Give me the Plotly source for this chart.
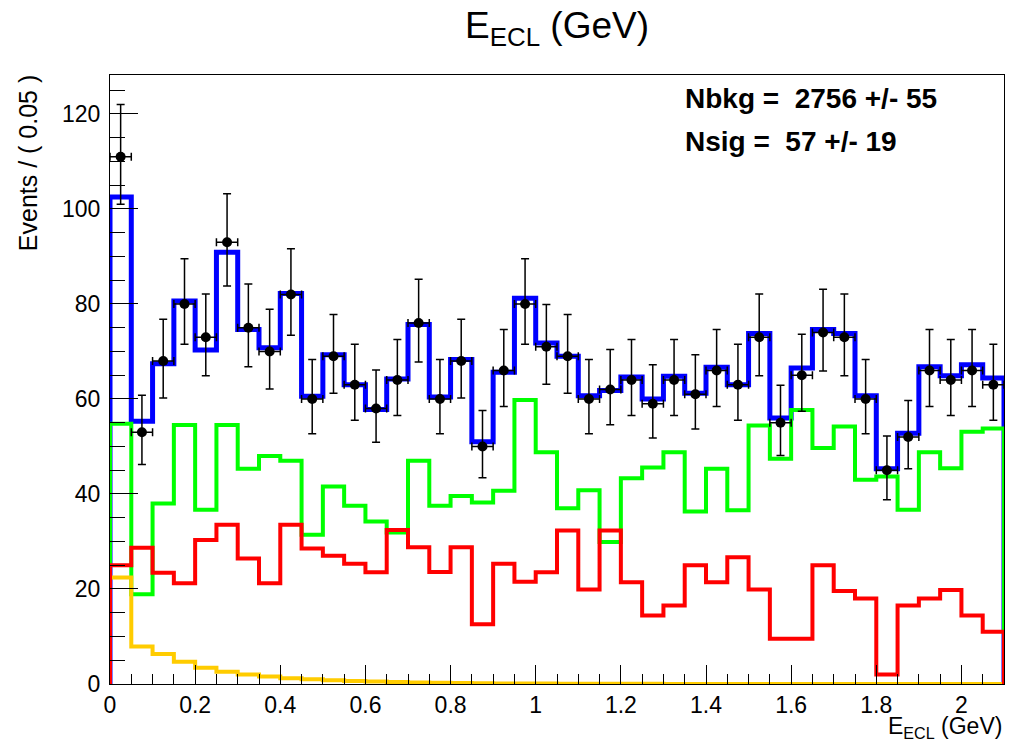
import plotly.graph_objects as go

# ---- data ----
bin_width = 0.05
n_bins = 42

data_counts = [111, 53, 68, 80, 73, 93, 75, 70, 82, 60,
               69, 63, 58, 64, 76, 60, 68, 50, 66, 80,
               71, 69, 60, 62, 64, 59, 64, 61, 66, 63,
               73, 55, 65, 74, 73, 60, 45, 52, 66, 64,
               66, 63]
err_hi = [11.0, 7.8, 8.8, 9.5, 9.1, 10.2, 9.2, 8.9, 9.6, 8.3,
          8.8, 8.5, 8.1, 8.5, 9.2, 8.3, 8.8, 7.6, 8.6, 9.5,
          8.9, 8.8, 8.3, 8.4, 8.5, 8.2, 8.5, 8.3, 8.6, 8.5,
          9.1, 7.9, 8.6, 9.1, 9.1, 8.3, 7.2, 7.7, 8.6, 8.5,
          8.6, 8.5]
err_lo = [10.0, 6.8, 7.8, 8.5, 8.1, 9.2, 8.2, 7.9, 8.6, 7.3,
          7.8, 7.5, 7.1, 7.5, 8.2, 7.3, 7.8, 6.6, 7.6, 8.5,
          7.9, 7.8, 7.3, 7.4, 7.5, 7.2, 7.5, 7.3, 7.6, 7.5,
          8.1, 6.9, 7.6, 8.1, 8.1, 7.3, 6.2, 6.7, 7.6, 7.5,
          7.6, 7.5]

total_fit = [102.5, 55.3, 67.4, 80.6, 70.3, 90.9, 74.6, 70.8, 82.2, 60.6,
             69.3, 63.0, 57.8, 64.2, 75.7, 60.4, 68.3, 51.0, 65.6, 81.2,
             71.8, 69.0, 60.7, 61.8, 64.6, 60.0, 64.8, 61.2, 66.7, 63.0,
             73.8, 56.0, 66.5, 74.6, 73.8, 60.7, 45.3, 52.8, 66.8, 64.9,
             67.2, 64.4]
green_comp = [54.8, 18.9, 38.0, 54.5, 36.7, 54.5, 45.3, 48.0, 47.0, 31.4,
              41.6, 37.5, 34.2, 31.9, 47.0, 37.5, 39.6, 38.2, 40.7, 59.8,
              48.8, 37.0, 40.8, 29.9, 43.3, 45.6, 48.8, 36.3, 45.3, 36.6,
              54.4, 47.4, 57.7, 49.7, 54.2, 43.0, 43.7, 36.7, 48.8, 45.4,
              53.1, 53.8]
red_comp = [25.0, 28.7, 23.4, 21.2, 30.3, 33.5, 26.4, 21.2, 33.5, 28.5,
            27.0, 25.3, 23.5, 32.4, 28.8, 23.6, 28.8, 12.6, 25.3, 21.5,
            23.5, 32.3, 19.9, 32.3, 21.4, 14.4, 16.5, 25.0, 21.4, 26.7,
            19.9, 9.5, 9.5, 25.0, 19.6, 18.0, 2.0, 16.5, 18.0, 19.8,
            14.4, 11.0]
yellow_comp = [22.4, 7.9, 6.3, 4.7, 3.4, 2.6, 2.0, 1.6, 1.2, 1.0,
               0.8, 0.65, 0.5, 0.4, 0.32, 0.26, 0.2, 0.16, 0.13, 0.1,
               0.08, 0.06, 0.05, 0.04, 0.03, 0.03, 0.02, 0.02, 0.01, 0.01,
               0.01, 0.01, 0.0, 0.0, 0.0, 0.0, 0.0, 0.0, 0.0, 0.0,
               0.0, 0.0]

x_tick_vals = [0, 0.2, 0.4, 0.6, 0.8, 1.0, 1.2, 1.4, 1.6, 1.8, 2.0]
x_tick_text = ["0", "0.2", "0.4", "0.6", "0.8", "1", "1.2", "1.4", "1.6", "1.8", "2"]
y_tick_vals = [0, 20, 40, 60, 80, 100, 120]

nbkg_text = "Nbkg =  2756 +/- 55"
nsig_text = "Nsig =  57 +/- 19"

# ---- derived geometry ----
edges = [round(i * bin_width, 4) for i in range(n_bins + 1)]
centers = [round((i + 0.5) * bin_width, 4) for i in range(n_bins)]
x_max = edges[-1]


def step(vals):
    xs = [edges[0]]
    ys = [0.0]
    for i, v in enumerate(vals):
        xs.append(edges[i])
        ys.append(v)
    xs.append(edges[-1]); ys.append(vals[-1])
    xs.append(edges[-1]); ys.append(0.0)
    return xs, ys


FONT = "Liberation Sans, Arial, sans-serif"
fig = go.Figure()

for vals, color, w in [(total_fit, "#0000ff", 5),
                       (green_comp, "#00ff00", 4),
                       (yellow_comp, "#ffcc00", 4),
                       (red_comp, "#ff0000", 4)]:
    xs, ys = step(vals)
    fig.add_trace(go.Scatter(x=xs, y=ys, mode="lines", line_shape="hv",
                             line=dict(color=color, width=w),
                             hoverinfo="skip", showlegend=False, cliponaxis=False))

fig.add_trace(go.Scatter(
    x=centers, y=data_counts, mode="markers",
    marker=dict(color="black", size=10),
    error_y=dict(type="data", symmetric=False, array=err_hi, arrayminus=err_lo,
                 color="black", thickness=1.5, width=4),
    error_x=dict(type="constant", value=bin_width / 2, color="black",
                 thickness=1.5, width=4),
    showlegend=False))

# page body has an 8px margin, so the figure is sized/placed to compensate
fig.update_layout(
    width=1008, height=732,
    margin=dict(l=102, r=12, t=67, b=56),
    paper_bgcolor="white", plot_bgcolor="white",
    font=dict(family=FONT, color="black"),
    showlegend=False,
)

fig.update_xaxes(range=[0, x_max], showgrid=False, zeroline=False,
                 showline=True, linecolor="black", linewidth=1, mirror=True,
                 ticks="inside", ticklen=19, tickwidth=1, tickcolor="black",
                 tickvals=x_tick_vals, ticktext=x_tick_text,
                 tickfont=dict(size=23, family=FONT, color="black"),
                 minor=dict(ticks="inside", ticklen=10, dtick=bin_width,
                            tick0=0, tickcolor="black", tickwidth=1))
fig.update_yaxes(range=[0, 128.2], showgrid=False, zeroline=False,
                 showline=True, linecolor="black", linewidth=1, mirror=True,
                 ticks="inside", ticklen=28, tickwidth=1, tickcolor="black",
                 tickvals=y_tick_vals,
                 tickfont=dict(size=23, family=FONT, color="black"),
                 ticklabelstandoff=4,
                 minor=dict(ticks="inside", ticklen=15, dtick=5, tick0=0,
                            tickcolor="black", tickwidth=1))

fig.add_annotation(text="E<sub>ECL</sub> (GeV)", xref="paper", yref="paper",
                   x=0.5, y=1.077, xanchor="center", yanchor="middle",
                   showarrow=False, font=dict(size=37, family=FONT, color="black"))
fig.add_annotation(text="Events / ( 0.05 )", xref="paper", yref="paper",
                   x=-0.0917, y=1.003, xanchor="center", yanchor="top",
                   textangle=-90, showarrow=False,
                   font=dict(size=25, family=FONT, color="black"))
fig.add_annotation(text="E<sub>ECL</sub> (GeV)", xref="paper", yref="paper",
                   x=1.0, y=-0.045, xanchor="right", yanchor="top",
                   showarrow=False, font=dict(size=23, family=FONT, color="black"))
fig.add_annotation(text="<b>" + nbkg_text + "</b>", xref="paper", yref="paper",
                   x=0.641, y=0.962, xanchor="left", yanchor="middle",
                   showarrow=False, font=dict(size=28, family=FONT, color="black"))
fig.add_annotation(text="<b>" + nsig_text + "</b>", xref="paper", yref="paper",
                   x=0.641, y=0.890, xanchor="left", yanchor="middle",
                   showarrow=False, font=dict(size=28, family=FONT, color="black"))

fig.write_html("out.html")
